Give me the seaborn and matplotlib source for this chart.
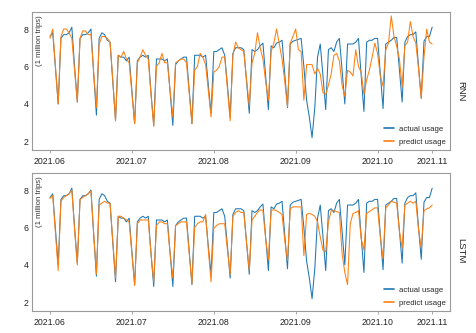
import numpy as np
import pandas as pd
import matplotlib
matplotlib.use("Agg")
import matplotlib.pyplot as plt
import seaborn as sns

# ---------------- data ----------------
tick_pos = [0, 30, 60, 90, 120, 140]
tick_labels = ["2021.06", "2021.07", "2021.08", "2021.09", "2021.10", "2021.11"]
models = ["RNN", "LSTM"]
series_names = ["actual usage", "predict usage"]

actual = [
    7.6, 7.8, 5.9, 4.0,
    7.5, 7.7, 7.7, 7.8, 8.1, 6.0, 4.1,
    7.5, 7.7, 7.7, 7.8, 8.0, 5.6, 3.4,
    7.5, 7.8, 7.7, 7.4, 7.3, 5.2, 3.1,
    6.6, 6.5, 6.5, 6.3, 6.5, 4.7, 2.95,
    6.3, 6.5, 6.6, 6.5, 6.6, 4.6, 2.85,
    6.4, 6.4, 6.4, 6.3, 6.4, 4.6, 2.85,
    6.1, 6.3, 6.4, 6.5, 6.5, 4.7, 2.95,
    6.6, 6.6, 6.6, 6.5, 6.6, 5.0, 3.5,
    6.8, 6.8, 6.9, 7.0, 6.6, 5.0, 3.3,
    6.7, 7.0, 7.0, 7.0, 6.9, 5.2, 3.5,
    6.9, 6.8, 6.9, 7.1, 7.25, 5.5, 3.7,
    7.1, 7.0, 7.25, 7.3, 7.4, 5.6, 3.8,
    7.2, 7.35, 7.4, 7.45, 7.5, 6.0, 4.2,
    3.3, 2.2, 3.8, 6.5, 7.2, 5.5, 3.7,
    6.9, 7.0, 6.8, 7.3, 7.5, 5.8, 4.0,
    7.2, 7.2, 7.2, 7.3, 7.5, 5.5, 3.6,
    7.3, 7.4, 7.4, 7.5, 7.5, 5.6, 3.75,
    7.2, 7.3, 7.4, 7.55, 7.55, 5.8, 4.1,
    7.3, 7.6, 7.7, 7.7, 7.85, 6.0, 4.3,
    7.35, 7.6, 7.6, 8.1,
]

predict_rnn = [
    7.5, 8.0, 6.0, 4.0,
    7.6, 8.0, 8.0, 7.8, 7.5, 5.8, 4.1,
    7.5, 7.9, 7.9, 7.7, 7.7, 5.7, 3.8,
    7.2, 7.6, 7.6, 7.5, 7.3, 5.3, 3.1,
    6.6, 6.5, 6.8, 6.4, 6.2, 4.6, 2.95,
    6.2, 6.5, 6.9, 6.6, 6.4, 4.5, 2.8,
    6.0, 6.2, 6.7, 6.2, 6.2, 4.7, 3.3,
    6.2, 6.3, 6.4, 6.4, 6.2, 4.6, 2.95,
    5.8, 6.0, 6.7, 6.5, 6.1, 4.7, 3.3,
    5.7, 5.8, 6.0, 6.5, 6.5, 4.8, 3.1,
    6.6, 7.3, 7.0, 6.9, 6.8, 5.3, 3.9,
    6.2, 6.7, 7.8, 7.0, 6.4, 5.2, 4.2,
    6.8, 7.25, 8.0, 7.2, 6.4, 5.2, 3.85,
    7.25, 7.6, 8.0, 6.9, 6.8, 4.2, 6.1,
    6.1, 6.1, 5.6, 5.9, 5.6, 4.6, 4.5,
    5.0, 5.6, 6.6, 6.7, 6.3, 5.0, 4.4,
    5.8, 5.7, 5.5, 6.9, 6.0, 5.7, 4.5,
    5.3, 5.8, 6.5, 7.25, 6.7, 5.5, 4.95,
    6.9, 7.25, 8.7, 7.6, 7.1, 6.4, 4.9,
    7.1, 7.3, 8.4, 7.6, 7.25, 5.9, 4.3,
    6.5, 8.0, 7.3, 7.2,
]

predict_lstm = [
    7.55, 7.7, 5.7, 3.7,
    7.4, 7.6, 7.7, 7.8, 8.0, 5.9, 4.0,
    7.5, 7.6, 7.7, 7.8, 7.95, 5.7, 3.5,
    7.2, 7.3, 7.4, 7.3, 7.3, 5.3, 3.3,
    6.6, 6.6, 6.5, 6.4, 6.3, 4.6, 2.9,
    6.2, 6.4, 6.4, 6.4, 6.4, 4.6, 3.1,
    6.1, 6.3, 6.3, 6.2, 6.2, 4.6, 3.3,
    6.1, 6.2, 6.3, 6.3, 6.3, 4.6, 3.0,
    6.0, 6.2, 6.3, 6.3, 6.7, 4.8, 3.1,
    5.95, 6.1, 6.2, 6.2, 6.2, 4.8, 3.5,
    6.6, 6.8, 6.9, 6.8, 6.8, 5.2, 3.7,
    6.4, 6.6, 6.8, 6.95, 6.9, 5.4, 4.3,
    6.9, 6.95, 6.9, 6.8, 6.7, 5.3, 4.25,
    7.0, 7.1, 7.1, 7.1, 7.1, 4.5, 6.7,
    6.75, 6.7, 6.6, 6.3, 5.5, 4.8, 4.7,
    6.3, 6.9, 6.9, 6.85, 6.8, 4.6, 3.6,
    2.95, 6.2, 6.75, 6.8, 6.9, 5.4, 4.8,
    6.75, 6.85, 6.95, 7.05, 7.05, 5.5, 4.35,
    7.05, 7.2, 7.4, 7.35, 7.3, 5.8, 4.9,
    7.2, 7.3, 7.4, 7.3, 7.4, 5.9, 4.9,
    6.9, 7.0, 7.05, 7.2,
]

# ---------------- style ----------------
sns.set_theme(style="white")
plt.rcParams["font.family"] = ["Liberation Sans", "DejaVu Sans"]
plt.rcParams["axes.edgecolor"] = "#9a9a9a"
plt.rcParams["axes.linewidth"] = 0.8

palette = {"actual usage": "#1f77b4", "predict usage": "#ff7f0e"}

fig = plt.figure(figsize=(4.76, 3.33), dpi=100)
ax_top = fig.add_axes([0.0672, 0.5495, 0.878, 0.4145])
ax_bot = fig.add_axes([0.0672, 0.066, 0.878, 0.4145])

preds = {"RNN": predict_rnn, "LSTM": predict_lstm}
label_y = {"RNN": 0.727, "LSTM": 0.246}

for ax, model in zip([ax_top, ax_bot], models):
    n = len(actual)
    df = pd.DataFrame({
        "day": list(range(n)) * 2,
        "value": list(actual) + list(preds[model]),
        "series": [series_names[0]] * n + [series_names[1]] * n,
    })
    sns.lineplot(data=df, x="day", y="value", hue="series", palette=palette,
                 linewidth=0.75, ax=ax)
    ax.set_xlim(-6.6, 146.5)
    ax.set_ylim(1.54, 8.91)
    ax.set_xticks(tick_pos)
    ax.set_xticklabels(tick_labels)
    ax.set_yticks([2, 4, 6, 8])
    ax.set_xlabel("")
    ax.set_ylabel("")
    ax.tick_params(axis="x", length=2.2, width=0.6, color="#9a9a9a", pad=2.5,
                   labelsize=6.3, labelcolor="#222222", bottom=True)
    ax.tick_params(axis="y", length=0, pad=2.5, labelsize=6.3, labelcolor="#222222")
    for sp in ax.spines.values():
        sp.set_visible(True)
        sp.set_color("#9a9a9a")
    ax.text(0.017, 0.975, "(1 million trips)", transform=ax.transAxes,
            rotation=90, ha="center", va="top", fontsize=5.6, color="#333333")
    leg = ax.legend(loc="lower right", frameon=False, fontsize=5.6,
                    handlelength=1.3, handletextpad=0.7, labelspacing=0.75,
                    borderaxespad=0.1)
    for line in leg.get_lines():
        line.set_linewidth(1.2)
    fig.text(0.9685, label_y[model], model, rotation=270, ha="center",
             va="center", fontsize=6.8, color="#222222")

fig.savefig("out.png", dpi=100)
